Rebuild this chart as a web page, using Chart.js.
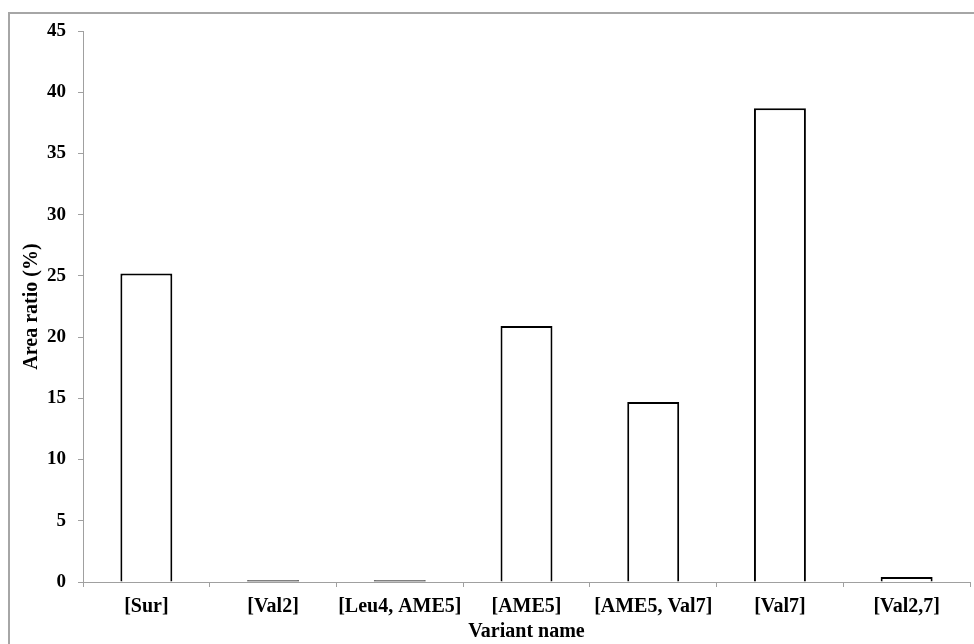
<!DOCTYPE html>
<html>
<head>
<meta charset="utf-8">
<script src="https://cdn.jsdelivr.net/npm/chart.js@4"></script>
<style>
  html, body { margin: 0; padding: 0; background: #ffffff; }
  #wrap { width: 974px; height: 644px; position: relative; }
</style>
</head>
<body>
<div id="wrap"><canvas id="areaChart"></canvas></div>
<script>
// variants and their area ratio (%)
const variants = ['[Sur]', '[Val2]', '[Leu4, AME5]', '[AME5]', '[AME5, Val7]', '[Val7]', '[Val2,7]'];
const areaRatio = [25.2, 0.15, 0.15, 20.9, 14.7, 38.7, 0.4];
const yTicks = [0, 5, 10, 15, 20, 25, 30, 35, 40, 45];

const serif = "'Liberation Serif', 'Times New Roman', serif";

// gray frame around the whole picture (only top and left show)
const frame = {
    id: 'frame',
    beforeDraw(chart) {
        const ctx = chart.ctx;
        ctx.save();
        ctx.fillStyle = '#ffffff';
        ctx.fillRect(0, 0, chart.width, chart.height);
        ctx.strokeStyle = '#a6a6a6';
        ctx.lineWidth = 2;
        ctx.strokeRect(9, 13, chart.width + 10, chart.height + 10);
        ctx.restore();
    }
};

const data = {
    labels: variants,
    datasets: [{
        label: 'Area ratio',
        data: areaRatio,
        // near-zero bars collapse to a black line
        backgroundColor: ctx => (ctx.raw < 0.2 ? '#000000' : '#ffffff'),
        borderColor: '#000000',
        borderWidth: 2,
        barPercentage: 0.41,
        categoryPercentage: 1.0
    }]
};

const config = {
    type: 'bar',
    data: data,
    plugins: [frame],
    options: {
        responsive: true,
        maintainAspectRatio: false,
        animation: false,
        layout: { padding: { left: 9, top: 31, right: 4, bottom: 0 } },
        plugins: {
            legend: { display: false },
            tooltip: { enabled: false }
        },
        scales: {
            x: {
                offset: true,
                afterFit: function(scale) { scale.height = 62; },
                grid: { display: true, offset: true, drawOnChartArea: false, drawTicks: true, tickLength: 5, color: '#a0a0a0' },
                border: { display: true, color: '#a0a0a0', width: 1 },
                ticks: { color: '#000000', padding: 8, maxRotation: 0, autoSkip: false, font: { family: serif, size: 20, weight: 'bold' } },
                title: { display: true, text: 'Variant name', color: '#000000', padding: { top: 0, bottom: 0 }, font: { family: serif, size: 20, weight: 'bold' } }
            },
            y: {
                min: 0,
                max: 45,
                afterFit: function(scale) { scale.width = 74; },
                afterBuildTicks: function(scale) { scale.ticks = yTicks.map(v => ({ value: v })); },
                grid: { display: true, drawOnChartArea: false, drawTicks: true, tickLength: 5, color: '#a0a0a0' },
                border: { display: true, color: '#a0a0a0', width: 1 },
                ticks: { color: '#000000', padding: 12, font: { family: serif, size: 19, weight: 'bold' } },
                title: { display: true, text: 'Area ratio (%)', color: '#000000', padding: { top: 11, bottom: 0 }, font: { family: serif, size: 20, weight: 'bold' } }
            }
        }
    }
};

document.addEventListener('DOMContentLoaded', function() {
    new Chart(document.getElementById('areaChart'), config);
});
</script>
</body>
</html>
